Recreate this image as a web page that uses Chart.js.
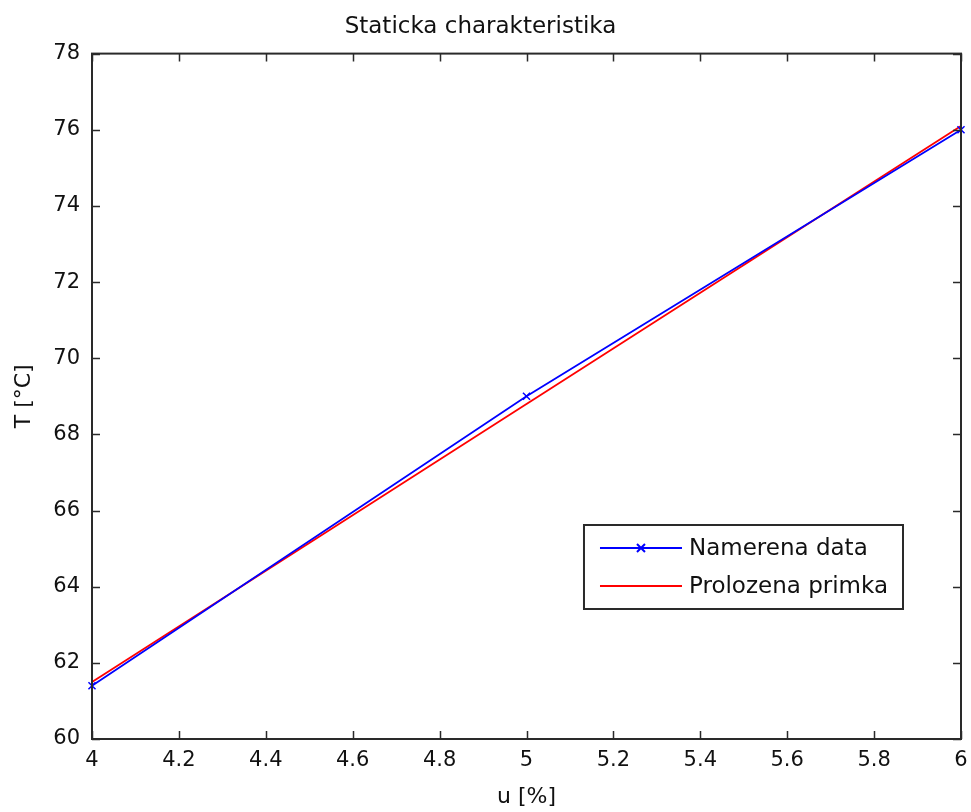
<!DOCTYPE html>
<html>
<head>
<meta charset="utf-8">
<script src="https://cdn.jsdelivr.net/npm/chart.js@4"></script>
<style>
  html, body { margin: 0; padding: 0; background: #fff; }
  #wrap { width: 971px; height: 812px; }
</style>
</head>
<body>
<div id="wrap"><canvas id="chart"></canvas></div>
<script>
// values
const uValues = [4, 5, 6];
const measured = [61.4, 69.0, 76.0];
const fitted = [61.5, 68.8, 76.1];
const seriesNames = ['Namerena data', 'Prolozena primka'];
const xTicks = { min: 4, max: 6, step: 0.2 };
const yTicks = { min: 60, max: 78, step: 2 };

const FONT = "'DejaVu Sans', sans-serif";

// MATLAB style box with inward tick marks
const boxPlugin = {
    id: 'box',
    afterDatasetsDraw(chart) {
        const ctx = chart.ctx;
        const a = chart.chartArea;
        const xs = chart.scales.x, ys = chart.scales.y;
        const len = 8;
        ctx.save();
        ctx.strokeStyle = '#2a2a2a';
        ctx.lineWidth = 2;
        ctx.strokeRect(a.left, a.top, a.right - a.left, a.bottom - a.top);
        ctx.lineWidth = 1.5;
        ctx.beginPath();
        xs.ticks.forEach(t => {
            const px = Math.round(xs.getPixelForValue(t.value)) + 0.5;
            ctx.moveTo(px, a.bottom); ctx.lineTo(px, a.bottom - len);
            ctx.moveTo(px, a.top); ctx.lineTo(px, a.top + len);
        });
        ys.ticks.forEach(t => {
            const py = Math.round(ys.getPixelForValue(t.value)) + 0.5;
            ctx.moveTo(a.left, py); ctx.lineTo(a.left + len, py);
            ctx.moveTo(a.right, py); ctx.lineTo(a.right - len, py);
        });
        ctx.stroke();
        ctx.restore();
    }
};

// legend drawn inside the axes, lower right
const boxLegend = {
    id: 'boxLegend',
    afterDraw(chart) {
        const ctx = chart.ctx;
        const a = chart.chartArea;
        const sets = chart.data.datasets;
        ctx.save();
        ctx.font = '23px ' + FONT;
        const textW = Math.max(...sets.map(d => ctx.measureText(d.label).width));
        const lineLen = 82, padL = 16, gap = 7, padR = 15, rowH = 38;
        const w = padL + lineLen + gap + textW + padR;
        const h = rowH * sets.length + 8;
        const x0 = a.right - 58 - w;
        const y0 = a.bottom - 130 - h;
        ctx.fillStyle = '#fff';
        ctx.fillRect(x0, y0, w, h);
        ctx.strokeStyle = '#2a2a2a';
        ctx.lineWidth = 2;
        ctx.strokeRect(x0, y0, w, h);
        sets.forEach((d, i) => {
            const cy = y0 + 23 + i * rowH;
            ctx.strokeStyle = d.borderColor;
            ctx.lineWidth = 2;
            ctx.beginPath();
            ctx.moveTo(x0 + padL, cy);
            ctx.lineTo(x0 + padL + lineLen, cy);
            ctx.stroke();
            if (d.pointRadius > 0) {
                const cx = x0 + padL + lineLen / 2, r = 4;
                ctx.beginPath();
                ctx.moveTo(cx - r, cy - r); ctx.lineTo(cx + r, cy + r);
                ctx.moveTo(cx - r, cy + r); ctx.lineTo(cx + r, cy - r);
                ctx.stroke();
            }
            ctx.fillStyle = '#111';
            ctx.textBaseline = 'middle';
            ctx.fillText(d.label, x0 + padL + lineLen + gap, cy + 1);
        });
        ctx.restore();
    }
};

const fmt = v => String(Number(v.toFixed(1)));

new Chart(document.getElementById('chart'), {
    type: 'line',
    data: {
        datasets: [{
            label: seriesNames[0],
            data: uValues.map((u, i) => ({ x: u, y: measured[i] })),
            borderColor: '#0000ff',
            backgroundColor: '#0000ff',
            borderWidth: 1.8,
            pointStyle: 'crossRot',
            pointRadius: 5,
            pointBorderWidth: 1.5,
            pointBorderColor: '#0000ff',
            tension: 0,
            clip: false
        }, {
            label: seriesNames[1],
            data: uValues.map((u, i) => ({ x: u, y: fitted[i] })),
            borderColor: '#ff0000',
            backgroundColor: '#ff0000',
            borderWidth: 1.8,
            pointRadius: 0,
            tension: 0,
            clip: false
        }]
    },
    options: {
        responsive: true,
        maintainAspectRatio: false,
        animation: false,
        layout: { padding: { left: 0, right: 10, top: 0, bottom: 0 } },
        plugins: {
            legend: { display: false },
            tooltip: { enabled: false },
            title: {
                display: true,
                text: 'Staticka charakteristika',
                color: '#111',
                font: { family: FONT, size: 23, weight: 'normal' },
                padding: { top: 13, bottom: 13 }
            }
        },
        scales: {
            x: {
                type: 'linear',
                min: xTicks.min,
                max: xTicks.max,
                grid: { display: false, drawTicks: false },
                border: { display: false },
                afterFit: s => { s.height = 73; s.paddingLeft = 0; s.paddingRight = 0; },
                ticks: {
                    stepSize: xTicks.step,
                    color: '#111',
                    padding: 9,
                    maxRotation: 0,
                    autoSkip: false,
                    font: { family: FONT, size: 21 },
                    callback: v => fmt(v)
                },
                title: {
                    display: true,
                    text: 'u [%]',
                    color: '#111',
                    font: { family: FONT, size: 22 },
                    padding: { top: 0, bottom: 2 }
                }
            },
            y: {
                min: yTicks.min,
                max: yTicks.max,
                grid: { display: false, drawTicks: false },
                border: { display: false },
                afterFit: s => { s.width = 92; s.paddingTop = 0; s.paddingBottom = 0; },
                ticks: {
                    stepSize: yTicks.step,
                    color: '#111',
                    padding: 12,
                    autoSkip: false,
                    font: { family: FONT, size: 21 },
                    callback: v => fmt(v)
                },
                title: {
                    display: true,
                    text: 'T [°C]',
                    color: '#111',
                    font: { family: FONT, size: 22 },
                    padding: { top: 11, bottom: 0 }
                }
            }
        }
    },
    plugins: [boxPlugin, boxLegend]
});
</script>
</body>
</html>
